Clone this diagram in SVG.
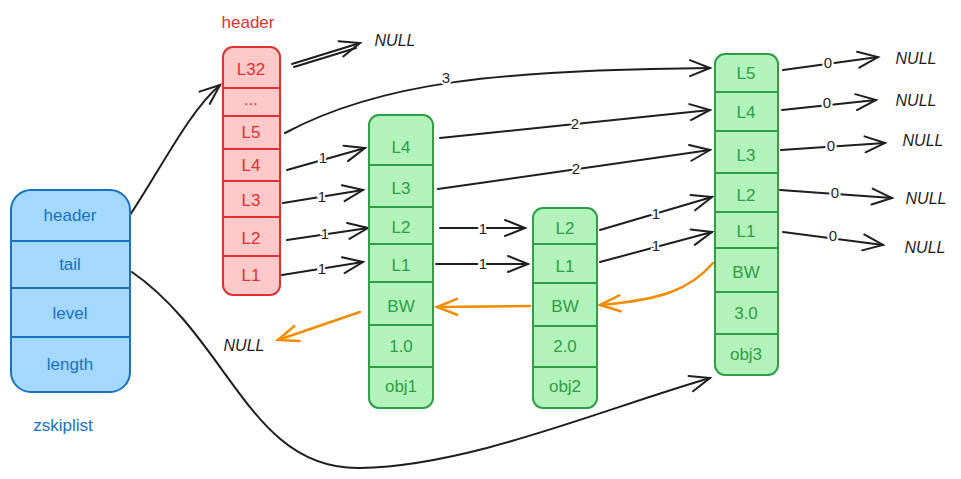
<svg xmlns="http://www.w3.org/2000/svg" width="961" height="479" viewBox="0 0 961 479">
<defs>
<style>
text{font-family:"Liberation Sans","DejaVu Sans",sans-serif;font-size:17px;text-anchor:middle;dominant-baseline:central}
.b{fill:#1971c2}.r{fill:#e03131}.g{fill:#2f9e44}.k{fill:#1e1e1e}
.null{font-style:italic;font-size:16px}
.lbl{fill:#1e1e1e;stroke:#fff;stroke-width:4px;paint-order:stroke;font-size:15px}
.ln{fill:none;stroke:#1e1e1e;stroke-width:2;stroke-linecap:round}
.ol{fill:none;stroke:#f08c00;stroke-width:2.5;stroke-linecap:round}
.div{stroke-width:2}
</style>
<marker id="ah" markerWidth="26" markerHeight="22" refX="22" refY="11" orient="auto" markerUnits="userSpaceOnUse"><path d="M2,3 L22,11 L2,19" fill="none" stroke="#1e1e1e" stroke-width="2" stroke-linecap="round"/></marker>
<marker id="ao" markerWidth="26" markerHeight="22" refX="22" refY="11" orient="auto" markerUnits="userSpaceOnUse"><path d="M2,3 L22,11 L2,19" fill="none" stroke="#f08c00" stroke-width="2.5" stroke-linecap="round"/></marker>
</defs>
<rect width="961" height="479" fill="#fff"/>

<g id="connectors">
<path class="ln" d="M130,215 C160,170 190,110 220,85" marker-end="url(#ah)"/>
<path class="ln" d="M132,272 C230,340 250,470 360,468 C470,466 600,410 710,378" marker-end="url(#ah)"/>
<path class="ln" d="M292,64 L360,43" marker-end="url(#ah)"/>
<path class="ln" d="M294,67 L356,48"/>
<path class="ln" d="M285,133 C380,82 500,70 710,68" marker-end="url(#ah)"/>
<text class="lbl" x="446" y="77">3</text>
<path class="ln" d="M287,170 L365,148" marker-end="url(#ah)"/>
<text class="lbl" x="323" y="157">1</text>
<path class="ln" d="M283,203 L363,190" marker-end="url(#ah)"/>
<text class="lbl" x="322" y="196">1</text>
<path class="ln" d="M287,240 L368,228" marker-end="url(#ah)"/>
<text class="lbl" x="325" y="233">1</text>
<path class="ln" d="M282,275 L363,262" marker-end="url(#ah)"/>
<text class="lbl" x="322" y="268">1</text>
<path class="ln" d="M440,138 L710,110" marker-end="url(#ah)"/>
<text class="lbl" x="575" y="123">2</text>
<path class="ln" d="M438,189 L710,150" marker-end="url(#ah)"/>
<text class="lbl" x="576" y="168">2</text>
<path class="ln" d="M440,228 L525,228" marker-end="url(#ah)"/>
<text class="lbl" x="483" y="228">1</text>
<path class="ln" d="M436,264 L528,264" marker-end="url(#ah)"/>
<text class="lbl" x="483" y="263">1</text>
<path class="ln" d="M600,230 L712,197" marker-end="url(#ah)"/>
<text class="lbl" x="656" y="213">1</text>
<path class="ln" d="M600,262 L712,232" marker-end="url(#ah)"/>
<text class="lbl" x="656" y="245">1</text>
<path class="ln" d="M783,70 L878,57" marker-end="url(#ah)"/>
<text class="lbl" x="828" y="62">0</text>
<path class="ln" d="M782,110 L876,100" marker-end="url(#ah)"/>
<text class="lbl" x="827" y="102">0</text>
<path class="ln" d="M781,150 L885,143" marker-end="url(#ah)"/>
<text class="lbl" x="831" y="145">0</text>
<path class="ln" d="M780,190 L892,198" marker-end="url(#ah)"/>
<text class="lbl" x="835" y="192">0</text>
<path class="ln" d="M783,232 L883,245" marker-end="url(#ah)"/>
<text class="lbl" x="833" y="235">0</text>
<path class="ol" d="M713,263 C690,290 660,300 600,305" marker-end="url(#ao)"/>
<path class="ol" d="M530,306 L437,307" marker-end="url(#ao)"/>
<path class="ol" d="M360,312 L278,340" marker-end="url(#ao)"/>
</g>

<g id="nulls">
<text class="k null" x="395" y="40">NULL</text>
<text class="k null" x="916" y="58">NULL</text>
<text class="k null" x="916" y="100">NULL</text>
<text class="k null" x="923" y="140">NULL</text>
<text class="k null" x="926" y="198">NULL</text>
<text class="k null" x="925" y="247">NULL</text>
<text class="k null" x="244" y="345">NULL</text>
</g>

<g id="zskiplist">
<rect x="11" y="190" width="119" height="202" rx="20" fill="#a5d8ff" stroke="#1971c2" stroke-width="2"/>
<g stroke="#1971c2" class="div">
<line x1="11" y1="241" x2="130" y2="241"/>
<line x1="11" y1="288" x2="130" y2="288"/>
<line x1="11" y1="337" x2="130" y2="337"/>
</g>
<text class="b" x="70" y="215">header</text>
<text class="b" x="70" y="264">tail</text>
<text class="b" x="70" y="313">level</text>
<text class="b" x="70" y="364">length</text>
<text class="b" x="63" y="425">zskiplist</text>
</g>

<g id="header">
<text class="r" x="248" y="22">header</text>
<rect x="223" y="47" width="57" height="248" rx="10" fill="#ffc9c9" stroke="#e03131" stroke-width="2"/>
<g stroke="#e03131" class="div">
<line x1="223" y1="88" x2="280" y2="88"/>
<line x1="223" y1="116" x2="280" y2="116"/>
<line x1="223" y1="149" x2="280" y2="149"/>
<line x1="223" y1="181" x2="280" y2="181"/>
<line x1="223" y1="217" x2="280" y2="217"/>
<line x1="223" y1="256" x2="280" y2="256"/>
</g>
<text class="r" x="251" y="69">L32</text>
<text class="r" x="251" y="99">...</text>
<text class="r" x="251" y="132">L5</text>
<text class="r" x="251" y="165">L4</text>
<text class="r" x="251" y="200">L3</text>
<text class="r" x="251" y="238">L2</text>
<text class="r" x="251" y="275">L1</text>
</g>

<g id="node1">
<rect x="369" y="115" width="64" height="293" rx="10" fill="#b2f2bb" stroke="#2f9e44" stroke-width="2"/>
<g stroke="#2f9e44" class="div">
<line x1="369" y1="165" x2="433" y2="165"/>
<line x1="369" y1="207" x2="433" y2="207"/>
<line x1="369" y1="244" x2="433" y2="244"/>
<line x1="369" y1="282" x2="433" y2="282"/>
<line x1="369" y1="325" x2="433" y2="325"/>
<line x1="369" y1="367" x2="433" y2="367"/>
</g>
<text class="g" x="401" y="147">L4</text>
<text class="g" x="401" y="188">L3</text>
<text class="g" x="401" y="227">L2</text>
<text class="g" x="401" y="265">L1</text>
<text class="g" x="401" y="306">BW</text>
<text class="g" x="401" y="346">1.0</text>
<text class="g" x="401" y="386">obj1</text>
</g>

<g id="node2">
<rect x="533" y="208" width="64" height="200" rx="10" fill="#b2f2bb" stroke="#2f9e44" stroke-width="2"/>
<g stroke="#2f9e44" class="div">
<line x1="533" y1="244" x2="597" y2="244"/>
<line x1="533" y1="283" x2="597" y2="283"/>
<line x1="533" y1="326" x2="597" y2="326"/>
<line x1="533" y1="367" x2="597" y2="367"/>
</g>
<text class="g" x="565" y="228">L2</text>
<text class="g" x="565" y="266">L1</text>
<text class="g" x="565" y="306">BW</text>
<text class="g" x="565" y="346">2.0</text>
<text class="g" x="565" y="386">obj2</text>
</g>

<g id="node3">
<rect x="715" y="54" width="63" height="321" rx="10" fill="#b2f2bb" stroke="#2f9e44" stroke-width="2"/>
<g stroke="#2f9e44" class="div">
<line x1="715" y1="92" x2="778" y2="92"/>
<line x1="715" y1="131" x2="778" y2="131"/>
<line x1="715" y1="173" x2="778" y2="173"/>
<line x1="715" y1="212" x2="778" y2="212"/>
<line x1="715" y1="248" x2="778" y2="248"/>
<line x1="715" y1="292" x2="778" y2="292"/>
<line x1="715" y1="334" x2="778" y2="334"/>
</g>
<text class="g" x="746" y="73">L5</text>
<text class="g" x="746" y="112">L4</text>
<text class="g" x="746" y="155">L3</text>
<text class="g" x="746" y="195">L2</text>
<text class="g" x="746" y="231">L1</text>
<text class="g" x="746" y="272">BW</text>
<text class="g" x="746" y="313">3.0</text>
<text class="g" x="746" y="354">obj3</text>
</g>
</svg>
